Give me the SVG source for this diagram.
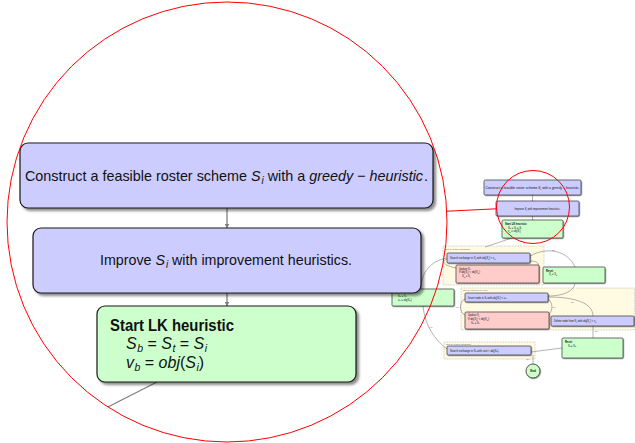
<svg xmlns="http://www.w3.org/2000/svg" width="635" height="443" viewBox="0 0 635 443">
<style>
text{font-family:"Liberation Sans","DejaVu Sans",sans-serif;fill:#111}
.lav{fill:#ccccff;stroke:#1a1a1a}
.grn{fill:#ccffcc;stroke:#1a1a1a}
.pnk{fill:#ffcccc;stroke:#1a1a1a}
.bn{stroke-width:1.2}
.sn{stroke-width:0.6}
.reg{fill:#fffae2;stroke:#999;stroke-width:0.5;stroke-dasharray:0.8 0.8}
.c{fill:none;stroke:#808080;stroke-width:0.6}
.cb{fill:none;stroke:#808080;stroke-width:1.3}
.t{font-size:2.6px}
.s{font-size:2.2px}
.lb{font-size:2.2px;fill:#666}
.it{font-style:italic}
.spy{fill:none;stroke:#ff0000;stroke-width:1}
</style>
<defs>
<filter id="shb" x="-10%" y="-10%" width="130%" height="140%"><feDropShadow dx="2.5" dy="2.5" stdDeviation="1.2" flood-color="#000" flood-opacity="0.45"/></filter>
<filter id="shs" x="-10%" y="-20%" width="130%" height="160%"><feDropShadow dx="0.7" dy="0.7" stdDeviation="0.3" flood-color="#000" flood-opacity="0.45"/></filter>
<marker id="ab" viewBox="0 0 10 10" refX="9" refY="5" markerWidth="5" markerHeight="5" markerUnits="userSpaceOnUse" orient="auto"><path d="M0,0 L10,5 L0,10 z" fill="#808080"/></marker>
<marker id="as" viewBox="0 0 10 10" refX="9" refY="5" markerWidth="1.6" markerHeight="1.6" markerUnits="userSpaceOnUse" orient="auto"><path d="M0,0 L10,5 L0,10 z" fill="#808080"/></marker>
<clipPath id="bigclip"><circle cx="227" cy="222" r="220"/></clipPath>
</defs>

<!-- small diagram: regions -->
<g id="step1">
<rect class="reg" x="443" y="246" width="101" height="39"/>
<text class="lb" x="445" y="249.5">Step 1: 2-Node-Exchange</text>
</g>
<g id="step2">
<rect class="reg" x="461" y="288" width="173.5" height="42"/>
<text class="lb" x="463" y="291">Step 2: insert/delete node</text>
</g>
<g id="step3">
<rect class="reg" x="444" y="342" width="91" height="17"/>
<text class="lb" x="446" y="345">Step 3: 2-Node-Exchange</text>
</g>

<!-- small diagram: connectors -->
<g id="connectors-small">
<path class="c" d="M532.5,195 L532.5,201" marker-end="url(#as)"/>
<path class="c" d="M532.5,216 L532.5,220" marker-end="url(#as)"/>
<path class="c" d="M512,238 L485,247"/>
<path class="c" d="M447,258 C430,261 421,273 421,289"/>
<path class="c" d="M423,306 C425,326 435,340 447,349"/>
<text class="lb" x="429" y="328">yes</text>
<path class="c" d="M530,256 C548,246 568,251 575,267"/>
<text class="lb" x="552" y="250.5">fail</text>
<path class="c" d="M575,284 C573,292 562,296 548,296"/>
<path class="c" d="M548,297 C575,297 593,303 593,316"/>
<text class="lb" x="571" y="303">fail</text>
<path class="c" d="M447,259 C442,261 442,265 456,268"/>
<path class="c" d="M530,261 C536,261 539,263 538,265"/>
<path class="c" d="M465,299 C459,301 459,313 465,315"/>
<path class="c" d="M548,299 C553,302 553,311 549,314"/>
<text class="lb" x="455.5" y="308">yes</text>
<text class="lb" x="552" y="308">yes</text>
<path class="c" d="M593,326 L593,338"/>
<text class="lb" x="595" y="332">fail</text>
<path class="c" d="M562,348 L531,352"/>
<path class="c" d="M533,355 L533,364"/>
<text class="lb" x="526.5" y="360">fail</text>
</g>

<!-- small diagram: nodes -->
<g id="s-construct">
<rect class="lav sn" x="484" y="180" width="97" height="15" rx="1.5" filter="url(#shs)"/>
<text class="t" x="485.5" y="189" textLength="94" lengthAdjust="spacingAndGlyphs">Construct a feasible roster scheme <tspan class="it">S</tspan><tspan class="s it" dy="0.6">i</tspan><tspan dy="-0.6"> with a </tspan><tspan class="it">greedy − heuristic</tspan>.</text>
</g>
<g id="s-improve">
<rect class="lav sn" x="496" y="201" width="83" height="15" rx="1.5" filter="url(#shs)"/>
<text class="t" x="537.5" y="210" text-anchor="middle">Improve <tspan class="it">S</tspan><tspan class="s it" dy="0.6">i</tspan><tspan dy="-0.6"> with improvement heuristics.</tspan></text>
</g>
<g id="s-start">
<rect class="grn sn" x="502" y="220" width="61" height="18" rx="1.5" filter="url(#shs)"/>
<text class="t" x="505" y="224.8" font-weight="bold">Start LK heuristic</text>
<text class="t it" x="508" y="228.6">S<tspan class="s" dy="0.5">b</tspan><tspan dy="-0.5" font-style="normal"> = </tspan>S<tspan class="s" dy="0.5">t</tspan><tspan dy="-0.5" font-style="normal"> = </tspan>S<tspan class="s" dy="0.5">i</tspan></text>
<text class="t it" x="508" y="232.2">v<tspan class="s" dy="0.5">b</tspan><tspan dy="-0.5" font-style="normal"> = </tspan>obj<tspan font-style="normal">(</tspan>S<tspan class="s" dy="0.5">i</tspan><tspan dy="-0.5" font-style="normal">)</tspan></text>
</g>
<g id="s-search1">
<rect class="lav sn" x="447" y="253" width="83" height="10" rx="1.2" filter="url(#shs)"/>
<text class="t" x="450" y="259">Search exchange in S<tspan class="s" dy="0.5">t</tspan><tspan dy="-0.5"> with obj(S</tspan><tspan class="s" dy="0.5">t</tspan><tspan dy="-0.5">') &lt; v</tspan><tspan class="s" dy="0.5">b</tspan></text>
</g>
<g id="s-update1">
<rect class="pnk sn" x="456" y="265" width="83" height="18" rx="1.2" filter="url(#shs)"/>
<text class="t" x="459" y="269.5">Update S<tspan class="s" dy="0.5">t</tspan></text>
<text class="t" x="459" y="273.3">If obj(S<tspan class="s" dy="0.5">t</tspan><tspan dy="-0.5">) &lt; obj(S</tspan><tspan class="s" dy="0.5">b</tspan><tspan dy="-0.5">):</tspan></text>
<text class="t" x="462" y="277.1">S<tspan class="s" dy="0.5">b</tspan><tspan dy="-0.5"> = S</tspan><tspan class="s" dy="0.5">t</tspan></text>
</g>
<g id="s-reset1">
<rect class="grn sn" x="543" y="267" width="62" height="16" rx="1.2" filter="url(#shs)"/>
<text class="t" x="546" y="271.5" font-weight="bold">Reset</text>
<text class="t" x="549" y="275.3">S<tspan class="s" dy="0.5">t</tspan><tspan dy="-0.5"> = S</tspan><tspan class="s" dy="0.5">b</tspan></text>
</g>
<g id="s-update0">
<rect class="grn sn" x="392" y="289" width="62" height="17" rx="1.2" filter="url(#shs)"/>
<text class="t" x="395" y="293" font-weight="bold">Update:</text>
<text class="t" x="398" y="296.8">S<tspan class="s" dy="0.5">b</tspan><tspan dy="-0.5"> = S</tspan><tspan class="s" dy="0.5">t</tspan></text>
<text class="t" x="398" y="300.6">v<tspan class="s" dy="0.5">b</tspan><tspan dy="-0.5"> = obj(S</tspan><tspan class="s" dy="0.5">b</tspan><tspan dy="-0.5">)</tspan></text>
</g>
<g id="s-insert">
<rect class="lav sn" x="465" y="293" width="83" height="9" rx="1.2" filter="url(#shs)"/>
<text class="t" x="468" y="298.6">Insert node in S<tspan class="s" dy="0.5">t</tspan><tspan dy="-0.5"> with obj(S</tspan><tspan class="s" dy="0.5">t</tspan><tspan dy="-0.5">') &lt; v</tspan><tspan class="s" dy="0.5">b</tspan></text>
</g>
<g id="s-update2">
<rect class="pnk sn" x="465" y="312" width="84" height="17" rx="1.2" filter="url(#shs)"/>
<text class="t" x="468" y="316.3">Update S<tspan class="s" dy="0.5">t</tspan></text>
<text class="t" x="468" y="320.1">If obj(S<tspan class="s" dy="0.5">t</tspan><tspan dy="-0.5">) &lt; obj(S</tspan><tspan class="s" dy="0.5">b</tspan><tspan dy="-0.5">):</tspan></text>
<text class="t" x="471" y="323.9">S<tspan class="s" dy="0.5">b</tspan><tspan dy="-0.5"> = S</tspan><tspan class="s" dy="0.5">t</tspan></text>
</g>
<g id="s-delete">
<rect class="lav sn" x="551" y="316" width="83" height="10" rx="1.2" filter="url(#shs)"/>
<text class="t" x="554" y="322">Delete node from S<tspan class="s" dy="0.5">t</tspan><tspan dy="-0.5"> with obj(S</tspan><tspan class="s" dy="0.5">t</tspan><tspan dy="-0.5">') &lt; v</tspan><tspan class="s" dy="0.5">b</tspan></text>
</g>
<g id="s-reset2">
<rect class="grn sn" x="562" y="338" width="61" height="20" rx="1.2" filter="url(#shs)"/>
<text class="t" x="565" y="343" font-weight="bold">Reset</text>
<text class="t" x="568" y="346.8">S<tspan class="s" dy="0.5">t</tspan><tspan dy="-0.5"> = S</tspan><tspan class="s" dy="0.5">b</tspan></text>
</g>
<g id="s-search3">
<rect class="lav sn" x="447" y="346" width="84" height="9" rx="1.2" filter="url(#shs)"/>
<text class="t" x="450" y="351.5">Search exchange in S<tspan class="s" dy="0.5">b</tspan><tspan dy="-0.5"> with cost &lt; obj(S</tspan><tspan class="s" dy="0.5">b</tspan><tspan dy="-0.5">)</tspan></text>
</g>
<g id="s-end">
<circle cx="533" cy="371" r="7" fill="#ccffcc" stroke="#1a1a1a" stroke-width="0.7" filter="url(#shs)"/>
<text x="533" y="372.2" font-size="3" font-weight="bold" text-anchor="middle">End</text>
</g>

<!-- magnified view -->
<g id="magnified" clip-path="url(#bigclip)">
<g id="connectors-big">
<path class="cb" d="M227,208 L227,228" marker-end="url(#ab)"/>
<path class="cb" d="M227,293 L227,306" marker-end="url(#ab)"/>
<path class="cb" d="M157,382 L100,411"/>
</g>
<g id="construct">
<rect class="lav bn" x="20" y="143" width="413" height="65" rx="8" filter="url(#shb)"/>
<text x="25" y="180.5" font-size="15" textLength="403" lengthAdjust="spacingAndGlyphs">Construct a feasible roster scheme <tspan class="it">S</tspan><tspan font-size="10.5" dx="1" dy="3" class="it">i</tspan><tspan dy="-3"> with a </tspan><tspan class="it">greedy</tspan> − <tspan class="it">heuristic</tspan><tspan dx="1">.</tspan></text>
</g>
<g id="improve">
<rect class="lav bn" x="33" y="228" width="388" height="65" rx="8" filter="url(#shb)"/>
<text x="100" y="265" font-size="15.5" textLength="252" lengthAdjust="spacingAndGlyphs">Improve <tspan class="it">S</tspan><tspan font-size="10.5" dx="1" dy="3" class="it">i</tspan><tspan dy="-3"> with improvement heuristics.</tspan></text>
</g>
<g id="start-lk">
<rect class="grn bn" x="97" y="306" width="259" height="76" rx="8" filter="url(#shb)"/>
<text x="110" y="331" font-size="16" font-weight="bold" textLength="124" lengthAdjust="spacingAndGlyphs">Start LK heuristic</text>
<text x="126" y="349" font-size="16" class="it">S<tspan font-size="10.5" dx="0.5" dy="3">b</tspan><tspan dy="-3" font-style="normal"> = </tspan>S<tspan font-size="10.5" dx="0.5" dy="3">t</tspan><tspan dy="-3" font-style="normal"> = </tspan>S<tspan font-size="10.5" dx="0.5" dy="3">i</tspan></text>
<text x="126" y="368" font-size="16" class="it">v<tspan font-size="10.5" dx="0.5" dy="3">b</tspan><tspan dy="-3" font-style="normal"> = </tspan>obj<tspan font-style="normal">(</tspan>S<tspan font-size="10.5" dx="0.5" dy="3">i</tspan><tspan dy="-3" font-style="normal">)</tspan></text>
</g>
</g>

<!-- spy outlines -->
<g id="spy">
<circle class="spy" cx="227" cy="222" r="220"/>
<circle class="spy" cx="533" cy="207" r="36.5" stroke-width="1.2"/>
<line class="spy" x1="446.7" y1="211.2" x2="496.5" y2="208.8"/>
</g>
</svg>
